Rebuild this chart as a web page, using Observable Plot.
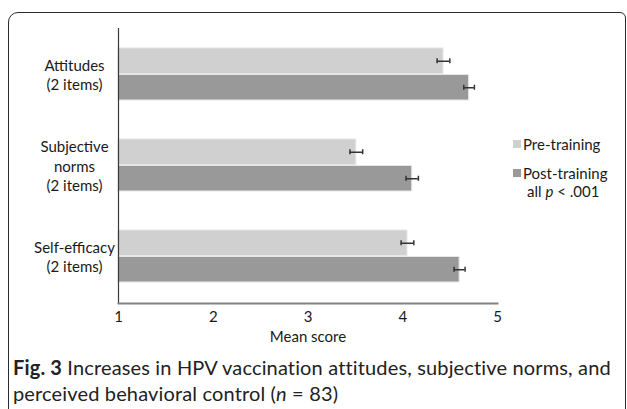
<!DOCTYPE html>
<html>
<head>
<meta charset="utf-8">
<script src="https://cdn.jsdelivr.net/npm/d3@7"></script>
<script src="https://cdn.jsdelivr.net/npm/@observablehq/plot@0.6"></script>
<style>
  html, body { margin: 0; padding: 0; background: #fff; }
  body { width: 627px; height: 409px; position: relative; overflow: hidden; font-family: Lato, "Open Sans", sans-serif; color: #1a1a1a; }
  #frame { position: absolute; left: 8px; top: 12px; width: 618px; height: 460px; border: 1.5px solid #2a2a2a; border-radius: 10px 6px 0 0; box-sizing: border-box; }
  #chart { position: absolute; left: 0; top: 0; }
  .leg { position: absolute; font-size: 15px; line-height: 18px; white-space: nowrap; }
  .sw { position: absolute; width: 8px; height: 8px; }
  #caption { position: absolute; left: 13px; top: 354px; font-size: 20px; letter-spacing: 0.15px; line-height: 26px; white-space: nowrap; color: #222; }
</style>
</head>
<body>
<div id="frame"></div>
<div id="chart"></div>
<div class="sw" style="left:513px;top:140px;background:#d0d0d0"></div>
<div class="leg" style="left:523px;top:135px">Pre-training</div>
<div class="sw" style="left:513px;top:169px;background:#999999"></div>
<div class="leg" style="left:523px;top:164px">Post-training</div>
<div class="leg" style="left:527px;top:182px">all <i>p</i> &lt; .001</div>
<div id="caption"><b>Fig. 3</b> Increases in HPV vaccination attitudes, subjective norms, and<br>perceived behavioral control (<i>n</i> = 83)</div>
<script>
const categories = ["Attitudes\n(2 items)", "Subjective\nnorms\n(2 items)", "Self-efficacy\n(2 items)"];
const preValues = [4.43, 3.51, 4.05];
const preErrors = [0.067, 0.067, 0.067];
const postValues = [4.70, 4.10, 4.60];
const postErrors = [0.056, 0.065, 0.058];
const xTicks = [1, 2, 3, 4, 5];
const xDomain = [1, 5];

const pre = categories.map((c, i) => ({category: c, value: preValues[i], err: preErrors[i]}));
const post = categories.map((c, i) => ({category: c, value: postValues[i], err: postErrors[i]}));

const W = 627, H = 345, mt = 28, mb = 42, ml = 118, mr = 130;
const pIn = 0.424, pOut = 0.207;
const step = (H - mt - mb) / (categories.length - pIn + 2 * pOut);
const bw = step * (1 - pIn);
const half = bw / 2;
const cap = 3;

const chart = Plot.plot({
  width: W, height: H,
  marginTop: mt, marginBottom: mb, marginLeft: ml, marginRight: mr,
  style: {fontFamily: "Lato, 'Open Sans', sans-serif", fontSize: "15px", color: "#1a1a1a", background: "transparent"},
  x: {domain: xDomain},
  y: {type: "band", domain: categories, paddingInner: pIn, paddingOuter: pOut},
  marks: [
    Plot.barX(pre, {y: "category", x1: xDomain[0], x2: "value", fill: "#d0d0d0", stroke: "#e6e6e6", strokeWidth: 1, insetBottom: half}),
    Plot.barX(post, {y: "category", x1: xDomain[0], x2: "value", fill: "#999999", stroke: "#e6e6e6", strokeWidth: 1, insetTop: half}),
    Plot.ruleY(pre, {y: "category", x1: d => d.value - d.err, x2: d => d.value + d.err, dy: -bw / 4, stroke: "#333", strokeWidth: 1.5}),
    Plot.ruleY(post, {y: "category", x1: d => d.value - d.err, x2: d => d.value + d.err, dy: bw / 4, stroke: "#333", strokeWidth: 1.5}),
    Plot.tickX(pre, {y: "category", x: d => d.value - d.err, insetTop: bw / 4 - cap, insetBottom: bw * 3 / 4 - cap, stroke: "#333", strokeWidth: 1.5}),
    Plot.tickX(pre, {y: "category", x: d => d.value + d.err, insetTop: bw / 4 - cap, insetBottom: bw * 3 / 4 - cap, stroke: "#333", strokeWidth: 1.5}),
    Plot.tickX(post, {y: "category", x: d => d.value - d.err, insetTop: bw * 3 / 4 - cap, insetBottom: bw / 4 - cap, stroke: "#333", strokeWidth: 1.5}),
    Plot.tickX(post, {y: "category", x: d => d.value + d.err, insetTop: bw * 3 / 4 - cap, insetBottom: bw / 4 - cap, stroke: "#333", strokeWidth: 1.5}),
    Plot.ruleX([xDomain[0]], {stroke: "#3a3a3a", strokeWidth: 1.2}),
    Plot.frame({anchor: "bottom", stroke: "#808080", strokeWidth: 2}),
    Plot.axisX({ticks: xTicks, tickSize: 0, tickPadding: 8, tickFormat: d => String(d), label: "Mean score", labelAnchor: "center", labelArrow: "none", labelOffset: 38, fill: "#1a1a1a"}),
    Plot.axisY({tickSize: 0, tickPadding: 44, textAnchor: "middle", lineHeight: 1.3, label: null, fill: "#1a1a1a"})
  ]
});
document.getElementById("chart").appendChild(chart);
</script>
</body>
</html>
